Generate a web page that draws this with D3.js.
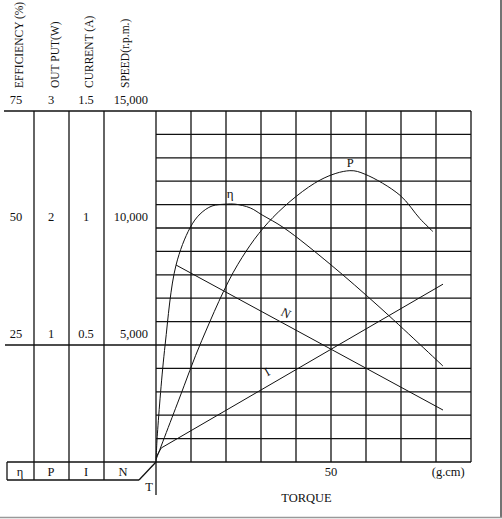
<!DOCTYPE html>
<html>
<head>
<meta charset="utf-8">
<script src="https://cdn.jsdelivr.net/npm/d3@7"></script>
<style>
  body { margin: 0; background: #fff; }
  text { font-family: "Liberation Serif", "DejaVu Serif", serif; fill: #111; }
</style>
</head>
<body>
<div id="plot"></div>
<script>
// values
const effTicks = [25, 50, 75],
      powerTicks = [1, 2, 3],
      currentTicks = [0.5, 1, 1.5],
      speedTicks = [5000, 10000, 15000],
      torqueTicks = [50]

const effTorque = [0, 0.4, 2.6, 5.7, 9.7, 12.6, 16, 20, 22.6, 26.9, 30.3, 36.6, 49.7, 64, 82],
      effValues = [0, 6, 25, 42, 50, 53, 54.7, 55.1, 55.1, 54.3, 52.8, 50, 42.3, 33, 20.5]
const powerTorque = [0, 6.5, 13.1, 23.4, 33.4, 46.9, 55.4, 59.7, 69.7, 75.4, 79.1],
      powerValues = [0.02, 0.53, 1.04, 1.69, 2.09, 2.41, 2.49, 2.46, 2.28, 2.08, 1.97]
const currentTorque = [0, 1.5, 82],
      currentValues = [0.02, 0.06, 0.76]
const speedTorque = [5.7, 82],
      speedValues = [8420, 2220]

const headers = ["EFFICIENCY (%)", "OUT PUT(W)", "CURRENT (A)", "SPEED(r.p.m.)"]
const symbols = ["η", "P", "I", "N"]

const w = 502, h = 519
const svg = d3.select("#plot").append("svg")
  .attr("width", w)
  .attr("height", h)

// scales: one torque axis, four value axes sharing the same height
const xScale = d3.scaleLinear().domain([0, 90]).range([156, 471]),
      speedScale = d3.scaleLinear().domain([0, 15000]).range([462, 111]),
      effScale = d3.scaleLinear().domain([0, 75]).range([462, 111]),
      powerScale = d3.scaleLinear().domain([0, 3]).range([462, 111]),
      currentScale = d3.scaleLinear().domain([0, 1.5]).range([462, 111])

const ink = "#111"

// grid
const grid = svg.append("g").attr("stroke", ink).attr("stroke-width", 1.3)
grid.selectAll(".v").data(d3.range(0, 91, 10)).join("line")
  .attr("x1", d => xScale(d)).attr("x2", d => xScale(d))
  .attr("y1", speedScale(0)).attr("y2", speedScale(15000))
grid.selectAll(".h").data(d3.range(0, 15001, 1000)).join("line")
  .attr("x1", xScale(0)).attr("x2", xScale(90))
  .attr("y1", d => speedScale(d)).attr("y2", d => speedScale(d))

// left table of scales
const colX = [34, 69, 104]
const table = svg.append("g").attr("stroke", ink).attr("stroke-width", 1.3)
table.append("line")
  .attr("x1", 4).attr("x2", xScale(0))
  .attr("y1", speedScale(15000)).attr("y2", speedScale(15000))
table.append("line")
  .attr("x1", 5).attr("x2", xScale(0))
  .attr("y1", speedScale(5000)).attr("y2", speedScale(5000))
table.selectAll(".c").data(colX).join("line")
  .attr("x1", d => d).attr("x2", d => d)
  .attr("y1", speedScale(15000)).attr("y2", 480)
// bottom symbol row
table.append("line").attr("x1", 7).attr("x2", xScale(0)).attr("y1", 462).attr("y2", 462)
table.append("line").attr("x1", 7).attr("x2", 139).attr("y1", 480).attr("y2", 480)
table.append("line").attr("x1", 7).attr("x2", 7).attr("y1", 462).attr("y2", 480)
table.append("line").attr("x1", 139).attr("x2", xScale(0)).attr("y1", 480).attr("y2", 462)
table.append("line").attr("x1", xScale(0)).attr("x2", xScale(0)).attr("y1", 462).attr("y2", 495)

// rotated headers
const headX = [23, 59, 93, 129]
svg.selectAll(".head").data(headers).join("text")
  .attr("transform", (d, i) => `translate(${headX[i]},88) rotate(-90)`)
  .attr("font-size", 11.5)
  .text(d => d)

// tick labels of each scale column
const tickCols = [
  {ticks: effTicks, scale: effScale, x: 16, anchor: "middle", fmt: d3.format("")},
  {ticks: powerTicks, scale: powerScale, x: 51, anchor: "middle", fmt: d3.format("")},
  {ticks: currentTicks, scale: currentScale, x: 86, anchor: "middle", fmt: d3.format("")},
  {ticks: speedTicks, scale: speedScale, x: 148, anchor: "end", fmt: d3.format(",")}
]
tickCols.forEach(c => {
  svg.selectAll(null).data(c.ticks).join("text")
    .attr("x", c.x)
    .attr("y", d => c.scale(d) - 7)
    .attr("text-anchor", c.anchor)
    .attr("font-size", 12.5)
    .text(d => c.fmt(d))
})

// symbol row
const symX = [20, 51, 86, 123]
svg.selectAll(".sym").data(symbols).join("text")
  .attr("x", (d, i) => symX[i])
  .attr("y", 476)
  .attr("text-anchor", "middle")
  .attr("font-size", 12.5)
  .text(d => d)
svg.append("text").attr("x", 149).attr("y", 491)
  .attr("text-anchor", "middle").attr("font-size", 12.5).text("T")

// torque axis labels
svg.selectAll(".tt").data(torqueTicks).join("text")
  .attr("x", d => xScale(d)).attr("y", 476)
  .attr("text-anchor", "middle").attr("font-size", 12.5)
  .text(d => d)
svg.append("text").attr("x", xScale(83.5)).attr("y", 476)
  .attr("text-anchor", "middle").attr("font-size", 12.5).text("(g.cm)")
svg.append("text").attr("x", xScale(43)).attr("y", 502)
  .attr("text-anchor", "middle").attr("font-size", 12.5).text("TORQUE")

// curves
const smooth = d3.curveCatmullRom.alpha(0.5)
const curve = (xs, ys, scale, type) => d3.line()
  .x((d, i) => xScale(xs[i]))
  .y(d => scale(d))
  .curve(type)(ys)

const curves = svg.append("g").attr("fill", "none").attr("stroke", ink).attr("stroke-width", 1)
curves.append("path").attr("d", curve(effTorque, effValues, effScale, smooth))
curves.append("path").attr("d", curve(powerTorque, powerValues, powerScale, smooth))
curves.append("path").attr("d", curve(currentTorque, currentValues, currentScale, d3.curveLinear))
curves.append("path").attr("d", curve(speedTorque, speedValues, speedScale, d3.curveLinear))

// curve labels
svg.append("text").attr("x", xScale(21.2)).attr("y", effScale(56.5))
  .attr("text-anchor", "middle").attr("font-size", 13).text("η")
svg.append("text").attr("x", xScale(55.5)).attr("y", powerScale(2.52))
  .attr("text-anchor", "middle").attr("font-size", 12.5).text("P")
svg.append("text")
  .attr("transform", `translate(${xScale(36.6)},${speedScale(6200)}) rotate(28)`)
  .attr("text-anchor", "middle").attr("font-size", 12.5).text("N")
svg.append("text")
  .attr("transform", `translate(${xScale(32.3)},${currentScale(0.37)}) rotate(-30)`)
  .attr("text-anchor", "middle").attr("font-size", 12.5).text("I")

// picture frame
svg.append("line").attr("x1", 501).attr("x2", 501).attr("y1", 0).attr("y2", 517)
  .attr("stroke", "#444").attr("stroke-width", 1.5)
svg.append("line").attr("x1", 0).attr("x2", 502).attr("y1", 517.5).attr("y2", 517.5)
  .attr("stroke", "#999").attr("stroke-width", 1.5)
</script>
</body>
</html>
